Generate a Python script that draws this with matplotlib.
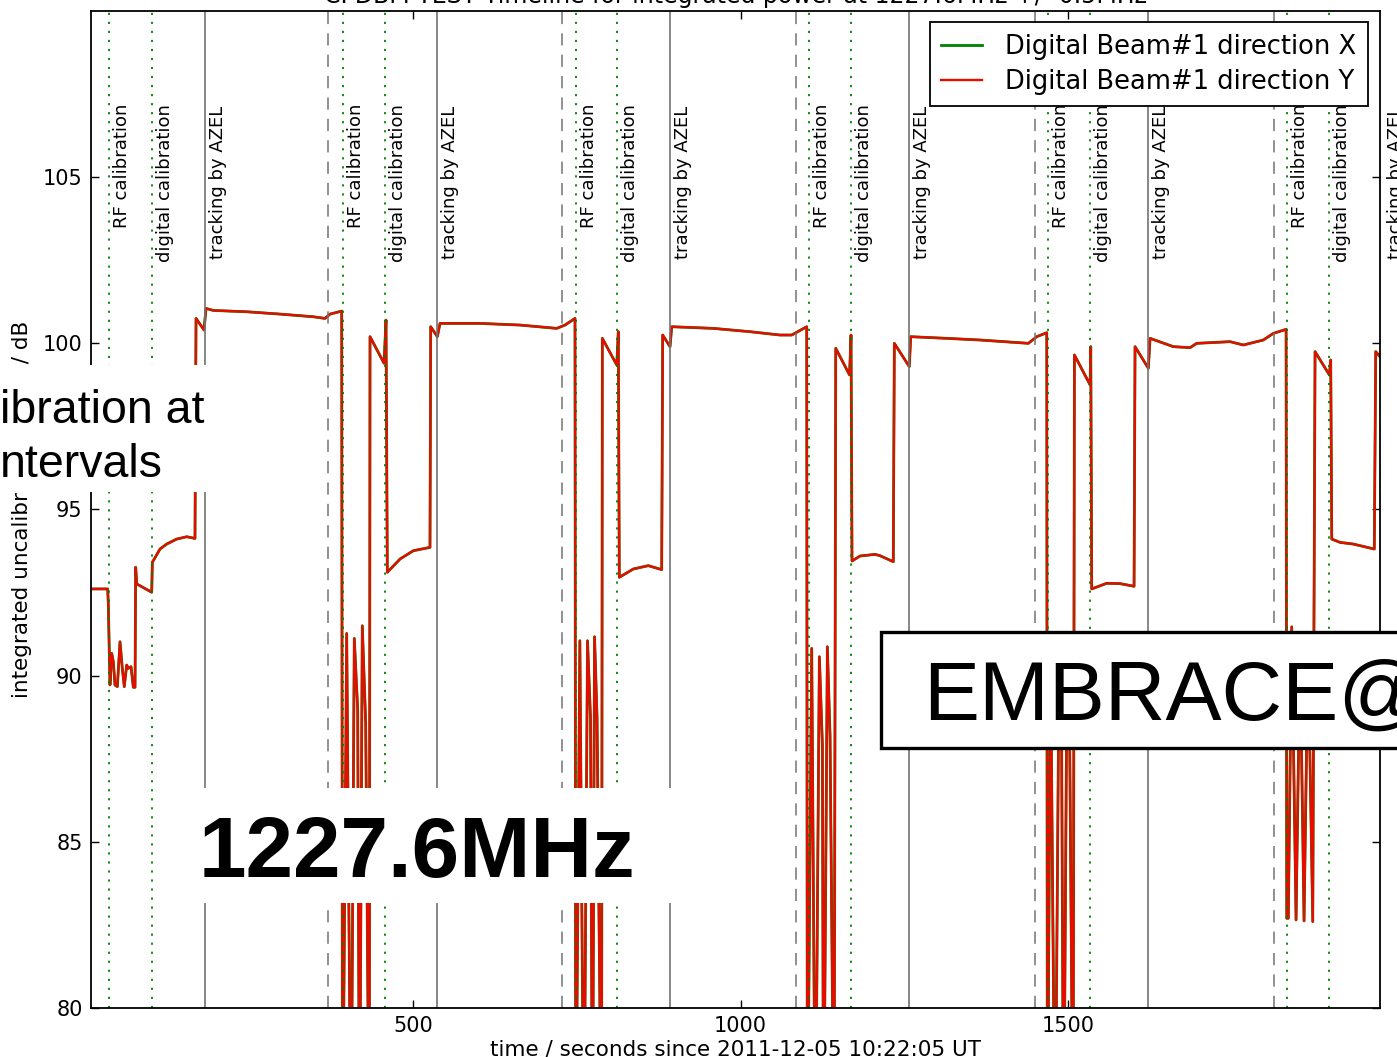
import matplotlib
matplotlib.use("Agg")
import matplotlib.pyplot as plt
from matplotlib.patches import Rectangle

# integrated power trace, direction Y; values below 80 dB run off the axis
times = [
    8.62, 34.1, 35.0, 37.6, 40.2, 42.7, 45.2, 48.8, 52.9, 56.4, 59.4, 63.1, 65.5, 69.7, 73.2,
    75.8, 76.8, 78.4, 101.3, 102.2, 113.9, 124.1, 139.4, 154.7, 167.3, 168.9, 181.1, 184.1,
    195.3, 246.2, 297.0, 347.9, 365.7, 373.4, 391.2,
    392.4, 398.8, 405.4, 410.4, 415.6, 418.4, 422.6, 427.8, 433.3, 434.4,
    455.8, 458.8, 460.8, 480.2, 500.5, 525.9, 527.0, 537.1, 541.2, 602.2, 663.3, 719.3, 732.0, 747.2,
    748.3, 754.6, 760.7, 766.3, 770.9, 773.9, 777.0, 780.8, 787.7, 788.9,
    810.9, 813.3, 814.8, 836.2, 859.1, 879.5, 881.0, 892.2, 894.8, 958.3, 1014.3, 1060.1, 1077.9, 1100.8,
    1101.7, 1108.4, 1114.0, 1120.1, 1124.7, 1126.5, 1132.3, 1136.4, 1142.5, 1145.1,
    1166.1, 1168.4, 1169.9, 1182.1, 1205.0, 1212.6, 1232.9, 1234.5, 1257.3, 1259.5, 1314.4, 1365.3,
    1439.0, 1451.8, 1467.1,
    1468.0, 1472.9, 1479.8, 1485.9, 1489.7, 1492.8, 1498.1, 1501.9, 1507.3, 1509.3,
    1533.2, 1534.2, 1535.7, 1558.6, 1578.9, 1600.3, 1601.8, 1622.1, 1624.7, 1660.3, 1685.8, 1695.9,
    1746.8, 1767.1, 1797.6, 1812.9, 1832.3,
    1833.3, 1835.7, 1840.9, 1847.5, 1853.6, 1859.7, 1865.8, 1873.0, 1876.5,
    1898.3, 1900.4, 1902.0, 1914.6, 1934.9, 1966.9, 1969.1, 1975.6,
]
power_y = [
    92.61, 92.61, 92.17, 89.72, 90.67, 90.42, 89.72, 89.67, 91.02, 90.22, 89.67, 90.32, 90.22, 90.27, 89.65,
    89.65, 93.26, 92.76, 92.51, 93.41, 93.81, 93.96, 94.11, 94.18, 94.13, 100.75, 100.40, 101.05,
    100.99, 100.95, 100.88, 100.80, 100.75, 100.88, 100.97,
    75, 91.27, 75, 91.12, 88.98, 75, 91.50, 88.57, 75, 100.20,
    99.40, 100.70, 93.11, 93.51, 93.76, 93.86, 100.50, 100.20, 100.60, 100.60, 100.55, 100.45, 100.55, 100.75,
    75, 91.05, 75, 91.05, 88.70, 75, 91.17, 88.77, 75, 100.15,
    99.35, 100.35, 92.96, 93.21, 93.31, 93.19, 100.25, 99.90, 100.50, 100.45, 100.35, 100.25, 100.25, 100.50,
    75, 90.82, 75, 90.57, 87.92, 75, 90.87, 88.17, 75, 99.85,
    99.05, 100.25, 93.45, 93.60, 93.65, 93.61, 93.43, 100.00, 99.30, 100.20, 100.15, 100.10,
    100.00, 100.20, 100.32,
    75, 90.6, 75, 90.4, 88.3, 75, 90.7, 88.5, 75, 99.65,
    98.75, 99.90, 92.61, 92.78, 92.77, 92.69, 99.90, 99.25, 100.15, 99.90, 99.87, 100.00,
    100.05, 99.95, 100.10, 100.30, 100.42,
    82.70, 82.70, 91.47, 82.65, 90.8, 82.62, 90.9, 82.60, 99.75,
    99.05, 99.50, 94.11, 94.01, 93.96, 93.81, 99.75, 99.60,
]
# direction X lies under the Y trace everywhere
power_x = list(power_y)

# event times in seconds
cycle_start = [370.3, 727.4, 1084.5, 1449.2, 1813.9]
rf_cal = [36.1, 393.2, 748.7, 1104.3, 1469.0, 1833.7]
digital_cal = [101.7, 457.3, 811.3, 1168.4, 1533.0, 1897.8]
tracking = [182.6, 536.6, 892.2, 1256.9, 1621.6, 1980.0]

W, H = 1397, 1057


def fx(px):
    return px / W


def fy(py):
    return 1 - py / H


fig = plt.figure(figsize=(W / 100, H / 100), dpi=100)
ax = fig.add_axes([fx(91), fy(1008), fx(1380) - fx(91), fy(11) - fy(1008)])

ax.plot(times, power_x, color=(0, 0.5, 0), lw=2.0, label="Digital Beam#1 direction X", zorder=2)
ax.plot(times, power_y, color=(0.9, 0.05, 0.0), lw=1.7, label="Digital Beam#1 direction Y", zorder=2.1)

for t in cycle_start:
    ax.axvline(t, color="0.45", lw=1.1, dashes=(8, 6), zorder=2.5)
for t in rf_cal:
    ax.axvline(t, color=(0, 0.5, 0), lw=1.3, dashes=(1.2, 3.8), zorder=2.5)
    ax.text(t + 6, 107.2, "RF calibration", rotation=90, ha="left", va="top", fontsize=13)
for t in digital_cal:
    ax.axvline(t, color=(0, 0.5, 0), lw=1.3, dashes=(1.2, 3.8), zorder=2.5)
    ax.text(t + 6, 107.2, "digital calibration", rotation=90, ha="left", va="top", fontsize=13)
for t in tracking:
    ax.axvline(t, color="0.45", lw=1.2, zorder=2.5)
    ax.text(t + 6, 107.15, "tracking by AZEL", rotation=90, ha="left", va="top", fontsize=13)

ax.set_xlim(8.62, 1975.6)
ax.set_ylim(80, 110)
ax.set_xticks([500, 1000, 1500])
ax.set_yticks([80, 85, 90, 95, 100, 105])
ax.tick_params(direction="in", length=6, width=1, top=True, right=True, labelsize=15, pad=6)
for s in ax.spines.values():
    s.set_linewidth(1.3)

ax.set_xlabel("time / seconds since 2011-12-05 10:22:05 UT", fontsize=15.5, labelpad=2)
ax.set_ylabel("integrated uncalibrated power / dB", fontsize=15.5, labelpad=8)
ax.set_title("CPDBM TEST Timeline for integrated power at 1227.6MHz +/- 0.5MHz", fontsize=17, pad=6)

leg = ax.legend(loc="upper right", bbox_to_anchor=((1368 - 91) / 1289, (1008 - 22) / 997),
                borderaxespad=0, fontsize=18.5, handlelength=1.6, handletextpad=0.9,
                borderpad=0.45, labelspacing=0.35, fancybox=False, framealpha=1)
leg.get_frame().set_edgecolor("black")
leg.get_frame().set_linewidth(1.3)

# slide overlays
sans = ["Liberation Sans", "DejaVu Sans"]
fig.patches.append(Rectangle((0, fy(492)), fx(215), fy(365) - fy(492), transform=fig.transFigure,
                             facecolor="white", edgecolor="none", zorder=5))
fig.text(0, fy(423), "ibration at", fontsize=33.5, family=sans, va="baseline", ha="left", zorder=6)
fig.text(0, fy(477), "ntervals", fontsize=33.5, family=sans, va="baseline", ha="left", zorder=6)

fig.patches.append(Rectangle((fx(175), fy(903)), fx(700) - fx(175), fy(788) - fy(903), transform=fig.transFigure,
                             facecolor="white", edgecolor="none", zorder=5))
fig.text(fx(199), fy(877), "1227.6MHz", fontsize=61.5, family=sans, weight="bold", va="baseline", zorder=6)

fig.patches.append(Rectangle((fx(881), fy(748)), fx(1420) - fx(881), fy(632) - fy(748), transform=fig.transFigure,
                             facecolor="white", edgecolor="black", lw=2.4, zorder=5))
fig.text(fx(923), fy(720), "EMBRACE@", fontsize=60.5, family=sans, va="baseline", zorder=6)

fig.savefig("out.png", dpi=100)
